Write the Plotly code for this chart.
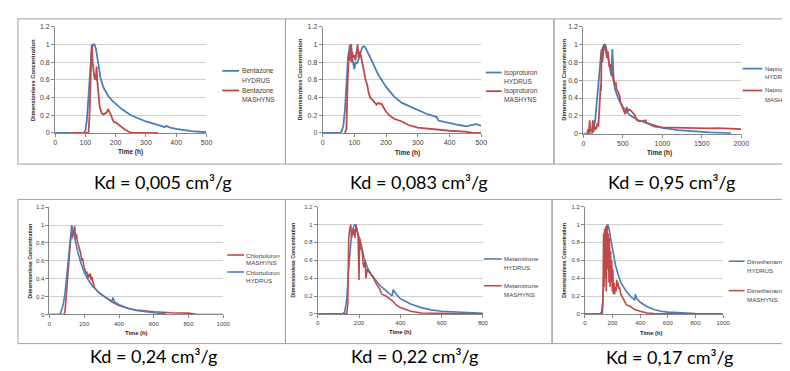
import plotly.graph_objects as go

W, H = 790, 371

# ---------------- data ----------------
# Panel 1: Bentazone (Kd = 0,005)
bent_hyd_t = [0, 95, 100, 105, 110, 115, 120, 125, 130, 135, 140, 150, 160, 175, 190, 200, 220, 250, 300, 350, 362, 367, 380, 400, 450, 500]
bent_hyd_c = [0, 0, 0.03, 0.15, 0.4, 0.7, 0.92, 1.0, 1.0, 0.95, 0.85, 0.62, 0.51, 0.42, 0.36, 0.33, 0.27, 0.2, 0.13, 0.08, 0.065, 0.08, 0.06, 0.045, 0.02, 0.008]
bent_mas_t = [50, 110, 113, 116, 119, 121, 124, 127, 130, 134, 137, 139, 141, 144, 147, 150, 155, 160, 165, 170, 175, 180, 185, 190, 195, 200, 210, 220, 230, 240, 250, 300, 340]
bent_mas_c = [0, 0, 0.15, 0.6, 0.95, 1.0, 0.8, 0.66, 0.62, 0.6, 0.75, 0.6, 0.5, 0.37, 0.3, 0.26, 0.22, 0.21, 0.22, 0.23, 0.27, 0.24, 0.2, 0.15, 0.12, 0.12, 0.09, 0.06, 0.04, 0.02, 0.005, 0, 0]

# Panel 2: Isoproturon (Kd = 0,083)
iso_hyd_t = [0, 55, 60, 65, 70, 75, 80, 85, 90, 93, 97, 100, 103, 107, 112, 118, 125, 130, 135, 150, 175, 200, 225, 250, 275, 300, 325, 350, 360, 365, 400, 430, 455, 470, 480, 490, 500]
iso_hyd_c = [0, 0, 0.02, 0.08, 0.25, 0.6, 0.85, 0.98, 1.0, 0.85, 0.78, 0.72, 0.8, 0.78, 0.82, 0.9, 0.97, 0.98, 0.96, 0.85, 0.66, 0.52, 0.41, 0.34, 0.3, 0.26, 0.22, 0.19, 0.18, 0.14, 0.11, 0.09, 0.075, 0.085, 0.1, 0.095, 0.08]
iso_mas_t = [70, 75, 78, 82, 85, 88, 90, 93, 96, 100, 103, 106, 110, 113, 116, 120, 125, 130, 135, 140, 145, 150, 155, 160, 165, 170, 175, 180, 185, 190, 200, 210, 225, 250, 270, 300, 350, 400, 450, 475, 500]
iso_mas_c = [0, 0.05, 0.5, 0.9, 0.82, 1.0, 0.8, 0.92, 0.85, 0.88, 0.82, 0.9, 1.0, 0.85, 0.92, 0.88, 0.8, 0.7, 0.6, 0.55, 0.45, 0.4, 0.38, 0.36, 0.33, 0.32, 0.34, 0.33, 0.33, 0.3, 0.24, 0.2, 0.16, 0.13, 0.09, 0.06, 0.04, 0.025, 0.015, 0.0, 0.0]

# Panel 3: Napropamide (Kd = 0,95)
nap_hyd_t = [0, 100, 120, 150, 175, 200, 225, 250, 270, 285, 300, 320, 340, 355, 367, 372, 385, 400, 450, 500, 550, 600, 700, 800, 900, 1000, 1200, 1400, 1600, 1870]
nap_hyd_c = [0, 0, 0.02, 0.15, 0.4, 0.7, 0.9, 0.98, 1.0, 0.98, 0.92, 0.82, 0.72, 0.65, 0.95, 0.8, 0.6, 0.5, 0.38, 0.3, 0.24, 0.2, 0.15, 0.12, 0.09, 0.065, 0.04, 0.025, 0.015, 0.005]
nap_mas_t = [50, 60, 70, 80, 90, 100, 110, 120, 130, 140, 160, 180, 190, 200, 210, 220, 225, 230, 240, 250, 260, 270, 280, 290, 300, 310, 320, 330, 340, 350, 360, 380, 400, 410, 420, 440, 460, 470, 490, 510, 530, 550, 560, 580, 600, 620, 650, 680, 700, 750, 790, 800, 850, 900, 1000, 1200, 1400, 1600, 1700, 1800, 2000]
nap_mas_c = [0, 0.05, 0.0, 0.15, 0.02, 0.05, 0.03, 0.15, 0.02, 0.08, 0.05, 0.12, 0.08, 0.3, 0.35, 0.55, 0.48, 0.95, 0.8, 0.9, 0.98, 1.0, 0.96, 0.9, 0.85, 0.92, 0.85, 0.75, 0.78, 0.7, 0.68, 0.6, 0.55, 0.58, 0.5, 0.47, 0.42, 0.35, 0.3, 0.25, 0.22, 0.3, 0.25, 0.27, 0.26, 0.24, 0.21, 0.15, 0.14, 0.14, 0.15, 0.12, 0.1, 0.08, 0.07, 0.065, 0.06, 0.06, 0.062, 0.058, 0.05]

# Panel 4: Chlortoluron (Kd = 0,24)
chl_hyd_t = [0, 60, 70, 80, 90, 100, 110, 120, 128, 135, 145, 160, 180, 200, 225, 250, 300, 350, 360, 365, 375, 400, 450, 500, 550, 600, 670]
chl_hyd_c = [0, 0, 0.05, 0.12, 0.25, 0.45, 0.7, 0.9, 1.0, 0.95, 0.85, 0.72, 0.58, 0.47, 0.38, 0.31, 0.22, 0.16, 0.15, 0.19, 0.14, 0.11, 0.07, 0.045, 0.03, 0.02, 0.01]
chl_mas_t = [0, 85, 90, 100, 110, 120, 125, 130, 135, 140, 145, 150, 155, 160, 170, 175, 180, 185, 190, 200, 205, 210, 215, 220, 225, 230, 235, 240, 245, 250, 260, 280, 300, 330, 360, 400, 450, 500, 600, 700, 800, 850, 1000]
chl_mas_c = [0, 0, 0.05, 0.3, 0.6, 0.85, 0.92, 0.85, 0.95, 0.88, 0.99, 0.85, 0.9, 0.82, 0.75, 0.7, 0.68, 0.6, 0.63, 0.52, 0.5, 0.46, 0.48, 0.4, 0.45, 0.42, 0.46, 0.38, 0.42, 0.36, 0.3, 0.25, 0.22, 0.18, 0.14, 0.1, 0.07, 0.05, 0.03, 0.02, 0.015, 0.0, 0.0]

# Panel 5: Metamitrone (Kd = 0,22)
met_hyd_t = [0, 120, 130, 140, 150, 160, 170, 178, 185, 195, 210, 225, 240, 260, 280, 300, 330, 360, 365, 380, 400, 450, 500, 550, 600, 700, 800]
met_hyd_c = [0, 0, 0.02, 0.15, 0.5, 0.8, 0.95, 1.0, 0.98, 0.9, 0.78, 0.62, 0.52, 0.44, 0.38, 0.32, 0.26, 0.2, 0.27, 0.22, 0.17, 0.11, 0.07, 0.045, 0.03, 0.015, 0.008]
met_mas_t = [50, 140, 145, 150, 155, 160, 163, 167, 170, 175, 180, 185, 190, 195, 198, 200, 202, 205, 210, 215, 220, 225, 230, 233, 237, 240, 245, 255, 270, 285, 300, 310, 330, 360, 380, 400, 450, 500, 600, 700, 800]
met_mas_c = [0, 0, 0.1, 0.85, 0.95, 1.0, 0.85, 0.92, 0.88, 0.95, 0.85, 1.0, 0.93, 0.88, 0.6, 0.38, 0.85, 0.8, 0.72, 0.7, 0.55, 0.52, 0.6, 0.4, 0.45, 0.5, 0.48, 0.45, 0.4, 0.33, 0.28, 0.22, 0.2, 0.15, 0.1, 0.07, 0.03, 0.01, 0.005, 0.0, 0.0]

# Panel 6: Dimethenamide (Kd = 0,17)
dim_hyd_t = [0, 110, 120, 130, 140, 150, 160, 165, 175, 185, 200, 220, 240, 260, 280, 300, 340, 360, 365, 375, 400, 450, 500, 550, 600, 700, 800, 1000]
dim_hyd_c = [0, 0, 0.02, 0.15, 0.5, 0.85, 0.98, 1.0, 0.95, 0.85, 0.7, 0.55, 0.44, 0.35, 0.3, 0.25, 0.18, 0.16, 0.22, 0.17, 0.13, 0.08, 0.05, 0.03, 0.02, 0.01, 0.005, 0.0]
dim_mas_t = [50, 125, 130, 135, 138, 142, 146, 150, 154, 158, 162, 165, 170, 174, 178, 182, 186, 190, 194, 198, 202, 206, 210, 215, 220, 225, 230, 235, 240, 245, 250, 260, 280, 300, 320, 340, 360, 400, 450, 500, 600, 1000]
dim_mas_c = [0, 0, 0.1, 0.9, 0.3, 0.95, 0.4, 0.98, 0.25, 0.9, 1.0, 0.5, 0.9, 0.35, 0.85, 0.3, 0.7, 0.35, 0.6, 0.25, 0.5, 0.22, 0.35, 0.22, 0.3, 0.25, 0.38, 0.3, 0.35, 0.28, 0.3, 0.22, 0.15, 0.1, 0.09, 0.07, 0.05, 0.03, 0.01, 0.005, 0.0, 0.0]

y_ticks = [0, 0.2, 0.4, 0.6, 0.8, 1.0, 1.2]
y_tick_text = ["0", "0.2", "0.4", "0.6", "0.8", "1", "1.2"]

BLUE = "#4A7EBB"
RED = "#BE4B48"

panels = [
    dict(name="Bentazone", kd="Kd = 0,005 cm³/g", xmax=500, dtick=100,
         hyd=(bent_hyd_t, bent_hyd_c), mas=(bent_mas_t, bent_mas_c), hyd_first=True,
         plot=(45.7, 199, 15, 123.3), leg_line=(215, 232), leg_y=(60, 70, 80, 89.5),
         time=(122, 142.7), ytit=22.7, cap=(155, 173), fs=7.0, lfs=6.6, tfs=6.5, yfs=5.8, lw=1.8),
    dict(name="Isoproturon", kd="Kd = 0,083 cm³/g", xmax=500, dtick=100,
         hyd=(iso_hyd_t, iso_hyd_c), mas=(iso_mas_t, iso_mas_c), hyd_first=True,
         plot=(316.7, 477.3, 15, 123.3), leg_line=(482, 498), leg_y=(61.7, 70.5, 80.7, 89.5),
         time=(403, 144), ytit=293.3, cap=(414, 173), fs=7.0, lfs=6.6, tfs=6.5, yfs=5.8, lw=1.8),
    dict(name="Napropamide", kd="Kd = 0,95 cm³/g", xmax=2000, dtick=500,
         hyd=(nap_hyd_t, nap_hyd_c), mas=(nap_mas_t, nap_mas_c), hyd_first=True,
         plot=(580.7, 740.7, 15, 124), leg_line=(742, 762), leg_y=(57.7, 66.7, 80, 89.3),
         time=(658, 144), ytit=561.7, cap=(669.5, 173), fs=7.0, lfs=6.0, tfs=6.5, yfs=5.8, lw=1.8),
    dict(name="Chlortoluron", kd="Kd = 0,24 cm³/g", xmax=1000, dtick=200,
         hyd=(chl_hyd_t, chl_hyd_c), mas=(chl_mas_t, chl_mas_c), hyd_first=False,
         plot=(40, 216, 199, 308.3), leg_line=(220, 237), leg_y=(247.7, 255.5, 265, 273.5),
         time=(128, 326.7), ytit=20, cap=(145, 351), fs=6.0, lfs=6.2, tfs=5.8, yfs=5.3, lw=1.6),
    dict(name="Metamitrone", kd="Kd = 0,22 cm³/g", xmax=800, dtick=200,
         hyd=(met_hyd_t, met_hyd_c), mas=(met_mas_t, met_mas_c), hyd_first=True,
         plot=(311.7, 479, 198.3, 307.7), leg_line=(480, 498), leg_y=(251.7, 260, 279, 287.5),
         time=(395, 325.7), ytit=287, cap=(410, 351), fs=6.0, lfs=6.2, tfs=5.8, yfs=5.3, lw=1.6),
    dict(name="Dimethenamide", kd="Kd = 0,17 cm³/g", xmax=1000, dtick=200,
         hyd=(dim_hyd_t, dim_hyd_c), mas=(dim_mas_t, dim_mas_c), hyd_first=True,
         plot=(582.3, 722.3, 198.3, 307.7), leg_line=(728, 744), leg_y=(254, 263.3, 284, 293),
         time=(650, 326.7), ytit=561.7, cap=(667.5, 352), fs=6.0, lfs=6.2, tfs=5.8, yfs=5.3, lw=1.6),
]

def px(x):
    return x / W

def py(y):
    return 1 - y / H

fig = go.Figure()
shapes = []
annotations = []

# panel frames
FRAME = "#A0A0A0"
frames = [(8, 7, 279, 155), (279, 7, 551, 155), (551, 7, 792, 155),
          (8, 191, 279, 338), (279, 191, 549, 338), (549, 191, 792, 338)]
for (x0, y0, x1, y1) in frames:
    shapes.append(dict(type="rect", xref="paper", yref="paper",
                       x0=px(x0), x1=px(x1), y0=py(y1), y1=py(y0),
                       line=dict(color=FRAME, width=1), fillcolor="rgba(0,0,0,0)", layer="below"))

for i, p in enumerate(panels):
    k = "" if i == 0 else str(i + 1)
    xa, ya = "x" + k, "y" + k
    x0, x1, y0, y1 = p["plot"]
    fs = p["fs"]
    hyd = go.Scatter(x=p["hyd"][0], y=p["hyd"][1], mode="lines", xaxis=xa, yaxis=ya,
                     line=dict(color=BLUE, width=p["lw"]), name=p["name"] + " HYDRUS", showlegend=False)
    mas = go.Scatter(x=p["mas"][0], y=p["mas"][1], mode="lines", xaxis=xa, yaxis=ya,
                     line=dict(color=RED, width=p["lw"]), name=p["name"] + " MASHYNS", showlegend=False)
    if p["hyd_first"]:
        fig.add_trace(hyd); fig.add_trace(mas)
        order = [(BLUE, "HYDRUS"), (RED, "MASHYNS")]
    else:
        fig.add_trace(mas); fig.add_trace(hyd)
        order = [(RED, "MASHYNS"), (BLUE, "HYDRUS")]

    tickfont = dict(size=fs, color="#404040", family="Liberation Sans")
    fig.layout["xaxis" + k] = dict(domain=[px(x0), px(x1)], anchor=ya, range=[0, p["xmax"]],
                                   tickmode="linear", tick0=0, dtick=p["dtick"],
                                   showgrid=False, zeroline=False, showline=True, linecolor="#868686",
                                   linewidth=1, ticks="outside", ticklen=3, tickcolor="#868686",
                                   tickfont=tickfont)
    fig.layout["yaxis" + k] = dict(domain=[py(y1), py(y0)], anchor=xa, range=[0, 1.2],
                                   tickmode="array", tickvals=y_ticks, ticktext=y_tick_text,
                                   showgrid=True, gridcolor="#CFCFCF", gridwidth=1, zeroline=False,
                                   showline=True, linecolor="#868686", linewidth=1,
                                   ticks="outside", ticklen=3, tickcolor="#868686",
                                   tickfont=tickfont)

    # axis titles
    annotations.append(dict(text="<b>Time (h)</b>", x=px(p["time"][0]), y=py(p["time"][1]),
                            xref="paper", yref="paper", showarrow=False, xanchor="center", yanchor="middle",
                            font=dict(size=p["tfs"], color="#262626", family="Liberation Sans")))
    annotations.append(dict(text="<b>Dimensionless Concentration</b>", x=px(p["ytit"]),
                            y=py((y0 + y1) / 2), xref="paper", yref="paper", showarrow=False,
                            textangle=-90, xanchor="center", yanchor="middle",
                            font=dict(size=p["yfs"], color="#262626", family="Liberation Sans")))

    # legend
    lx0, lx1 = p["leg_line"]
    ly = p["leg_y"]
    lfont = dict(size=p["lfs"], color="#404040", family="Liberation Sans")
    for j, (col, model) in enumerate(order):
        yl1, yl2 = ly[2 * j], ly[2 * j + 1]
        shapes.append(dict(type="line", xref="paper", yref="paper", x0=px(lx0), x1=px(lx1),
                           y0=py(yl1), y1=py(yl1), line=dict(color=col, width=p["lw"])))
        annotations.append(dict(text=p["name"], x=px(lx1 + 0.5), y=py(yl1), xref="paper", yref="paper",
                                showarrow=False, xanchor="left", yanchor="middle", font=lfont))
        annotations.append(dict(text=model, x=px(lx1 + 0.5), y=py(yl2), xref="paper", yref="paper",
                                showarrow=False, xanchor="left", yanchor="middle", font=lfont))

    # caption
    annotations.append(dict(text=p["kd"], x=px(p["cap"][0]), y=py(p["cap"][1]), xref="paper", yref="paper",
                            showarrow=False, xanchor="center", yanchor="middle",
                            font=dict(size=18, color="#000000", family="Lato")))

fig.update_layout(width=W, height=H, margin=dict(l=0, r=0, t=0, b=0),
                  paper_bgcolor="white", plot_bgcolor="white",
                  showlegend=False, shapes=shapes, annotations=annotations)

fig.write_html("out.html")
